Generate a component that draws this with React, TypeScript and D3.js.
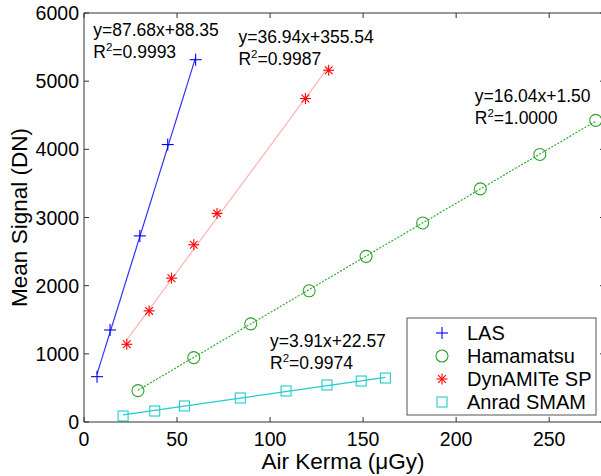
import React from "react";
import * as d3 from "d3";

const width = 601;
const height = 476;
const margin = { top: 13, right: -4, bottom: 54, left: 84 };

// air kerma (uGy) and mean signal (DN) per detector
const lasX = [7, 14, 30, 45, 60];
const lasY = [665, 1350, 2730, 4070, 5315];
const hamX = [29, 59, 89.6, 121, 151.6, 182, 213, 245, 275];
const hamY = [460, 945, 1440, 1925, 2430, 2920, 3420, 3925, 4425];
const dynX = [23, 35, 47, 59, 71.5, 119, 131.5];
const dynY = [1140, 1630, 2110, 2600, 3060, 4745, 5160];
const anrX = [21, 38, 54, 84, 108.6, 130.6, 149, 162];
const anrY = [88, 161, 235, 352, 455, 543, 601, 645];

const names = ["LAS", "Hamamatsu", "DynAMITe SP", "Anrad SMAM"];
const slopes = [87.68, 16.04, 36.94, 3.91];
const intercepts = [88.35, 1.5, 355.54, 22.57];
const r2 = ["0.9993", "1.0000", "0.9987", "0.9974"];

const xTicks = [0, 50, 100, 150, 200, 250];
const yTicks = [0, 1000, 2000, 3000, 4000, 5000, 6000];

const font = "'Liberation Sans', Arial, sans-serif";

const series = [
  { x: lasX, y: lasY, marker: "plus", color: "#0000ff", line: "#3030ff", dash: "", lw: 1.2 },
  { x: hamX, y: hamY, marker: "circle", color: "#2ca02c", line: "#33aa33", dash: "2,1.5", lw: 1.2 },
  { x: dynX, y: dynY, marker: "star", color: "#ff0000", line: "#ffb0b0", dash: "", lw: 1.1 },
  { x: anrX, y: anrY, marker: "square", color: "#22cccc", line: "#22cccc", dash: "", lw: 1.2 },
];

// label anchor in data units
const labelPos = [
  { x: 5, y: 5660 },
  { x: 210, y: 4700 },
  { x: 83, y: 5560 },
  { x: 100, y: 1100 },
];

function Marker({ type, cx, cy, color }: { type: string; cx: number; cy: number; color: string }) {
  if (type === "plus") {
    return (
      <g stroke={color} strokeWidth={1.1}>
        <line x1={cx - 6} x2={cx + 6} y1={cy} y2={cy} />
        <line x1={cx} x2={cx} y1={cy - 6} y2={cy + 6} />
      </g>
    );
  }
  if (type === "circle") {
    return <circle cx={cx} cy={cy} r={6} fill="none" stroke={color} strokeWidth={1.1} />;
  }
  if (type === "square") {
    return <rect x={cx - 5} y={cy - 5} width={10} height={10} fill="none" stroke={color} strokeWidth={1.1} />;
  }
  const r = 5.5;
  return (
    <g stroke={color} strokeWidth={1.1}>
      <line x1={cx - r} x2={cx + r} y1={cy} y2={cy} />
      <line x1={cx} x2={cx} y1={cy - r} y2={cy + r} />
      <line x1={cx - r * 0.7} x2={cx + r * 0.7} y1={cy - r * 0.7} y2={cy + r * 0.7} />
      <line x1={cx - r * 0.7} x2={cx + r * 0.7} y1={cy + r * 0.7} y2={cy - r * 0.7} />
    </g>
  );
}

export default function App() {
  const x = d3.scaleLinear().domain([0, 280]).range([margin.left, width - margin.right]);
  const y = d3.scaleLinear().domain([0, 6000]).range([height - margin.bottom, margin.top]);
  const [x0, x1] = x.range();
  const [y0, y1] = y.range();

  return (
    <svg width={width} height={height} style={{ position: "absolute", left: 0, top: 0, background: "#fff" }} fontFamily={font}>
      {/* fit lines */}
      {series.map((s, i) => {
        const xs = d3.extent(s.x) as [number, number];
        const pts: [number, number][] = xs.map((v) => [x(v), y(slopes[i] * v + intercepts[i])]);
        const path = d3.line()(pts) || "";
        return <path key={i} d={path} fill="none" stroke={s.line} strokeWidth={s.lw} strokeDasharray={s.dash} />;
      })}
      {series.map((s, i) => (
        <g key={"m" + i}>
          {s.x.map((v, j) => (
            <Marker key={j} type={s.marker} cx={x(v)} cy={y(s.y[j])} color={s.color} />
          ))}
        </g>
      ))}

      {/* frame */}
      <g stroke="#333" strokeWidth={1} fill="none">
        <line x1={x0} x2={x1} y1={y0} y2={y0} />
        <line x1={x0} x2={x1} y1={y1} y2={y1} />
        <line x1={x0} x2={x0} y1={y0} y2={y1} />
        <line x1={x1} x2={x1} y1={y0} y2={y1} />
        {xTicks.map((t) => (
          <g key={"xt" + t}>
            <line x1={x(t)} x2={x(t)} y1={y0} y2={y0 - 5} />
            <line x1={x(t)} x2={x(t)} y1={y1} y2={y1 + 5} />
          </g>
        ))}
        {yTicks.map((t) => (
          <g key={"yt" + t}>
            <line x1={x0} x2={x0 + 5} y1={y(t)} y2={y(t)} />
            <line x1={x1} x2={x1 - 5} y1={y(t)} y2={y(t)} />
          </g>
        ))}
      </g>
      <g fontSize={19.5} fill="#000">
        {xTicks.map((t) => (
          <text key={"xl" + t} x={x(t)} y={y0 + 24} textAnchor="middle">
            {t}
          </text>
        ))}
        {yTicks.map((t) => (
          <text key={"yl" + t} x={x0 - 5} y={y(t) + 7} textAnchor="end">
            {t}
          </text>
        ))}
      </g>
      <text x={343} y={469} textAnchor="middle" fontSize={22.5}>
        Air Kerma (μGy)
      </text>
      <text transform={`translate(27,${(y0 + y1) / 2}) rotate(-90)`} textAnchor="middle" fontSize={22.5}>
        Mean Signal (DN)
      </text>

      {/* equations */}
      <g fontSize={17.5} fill="#000">
        {labelPos.map((p, i) => (
          <g key={"eq" + i}>
            <text x={x(p.x)} y={y(p.y)}>
              {`y=${slopes[i].toFixed(2)}x+${intercepts[i].toFixed(2)}`}
            </text>
            <text x={x(p.x)} y={y(p.y) + 22}>
              R<tspan dy={-7} fontSize={11.5}>2</tspan>
              <tspan dy={7}>={r2[i]}</tspan>
            </text>
          </g>
        ))}
      </g>

      {/* legend */}
      <g>
        <rect x={407} y={318} width={189} height={97} fill="#fff" stroke="#555" strokeWidth={1} />
        {names.map((n, i) => (
          <g key={"lg" + i}>
            <Marker type={series[i].marker} cx={442} cy={333 + i * 23} color={series[i].color} />
            <text x={467} y={333 + i * 23 + 7} fontSize={20}>
              {n}
            </text>
          </g>
        ))}
      </g>
    </svg>
  );
}
